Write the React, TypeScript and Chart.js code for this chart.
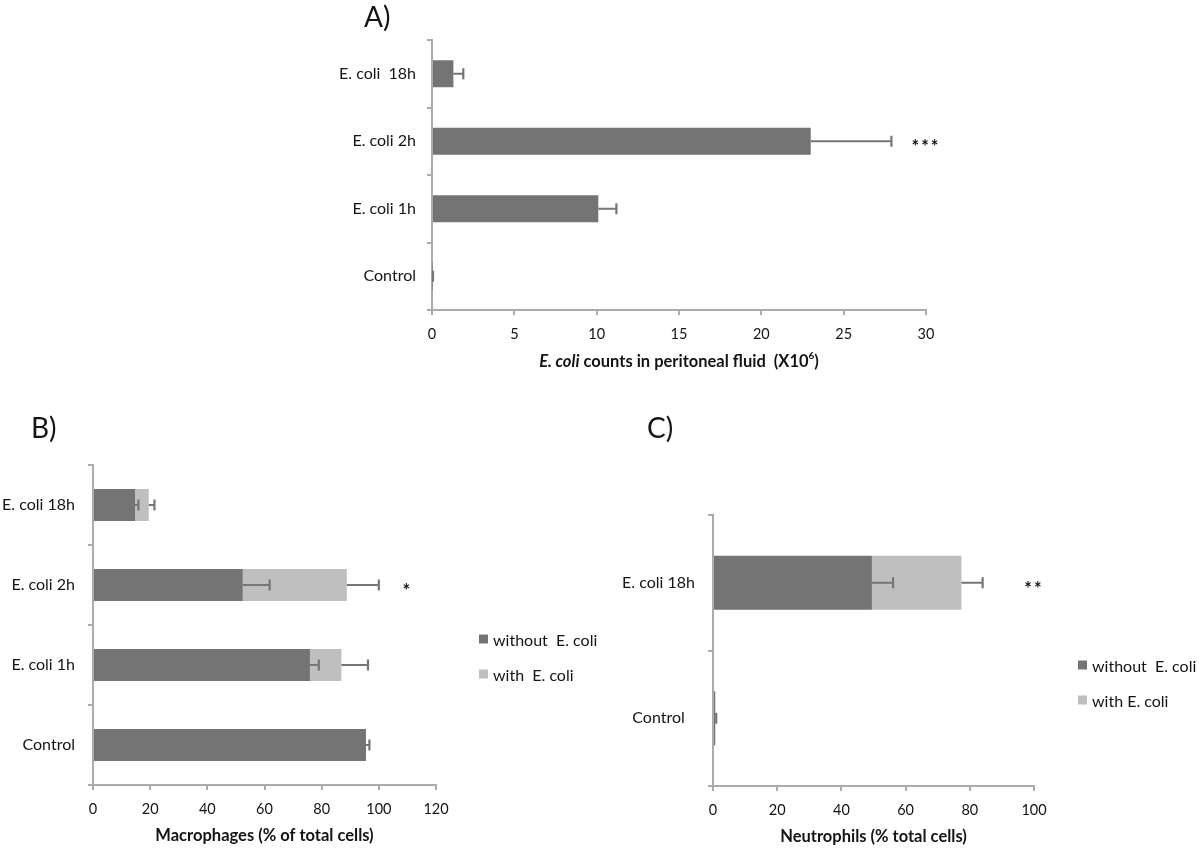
import React, { useEffect, useRef } from 'react';
import { Chart, registerables } from 'chart.js';

Chart.register(...registerables);

// ---------- Data ----------
// Panel A
const catsA = ['E. coli  18h', 'E. coli 2h', 'E. coli 1h', 'Control'];
const countsA = [1.3, 23.0, 10.1, 0.03];
const errA = [0.6, 4.9, 1.1, 0.03];
const ticksA = [0, 5, 10, 15, 20, 25, 30];
const sigA = [{ cat: 1, at: 30, mark: '***' }];

// Panel B
const catsB = ['E. coli 18h', 'E. coli 2h', 'E. coli 1h', 'Control'];
const withoutB = [14.7, 52.4, 75.9, 95.5];
const withB = [4.8, 36.4, 11.0, 0];
const errWithoutB = [1.2, 9.4, 3.1, 1.2];
const errWithB = [2.0, 11.2, 9.3, 0];
const ticksB = [0, 20, 40, 60, 80, 100, 120];
const seriesB = ['without  E. coli', 'with  E. coli'];
const sigB = [{ cat: 1, at: 110, mark: '*' }];

// Panel C
const catsC = ['E. coli 18h', 'Control'];
const withoutC = [49.5, 0.7];
const withC = [27.9, 0];
const errWithoutC = [6.6, 0.3];
const errWithC = [6.6, 0];
const ticksC = [0, 20, 40, 60, 80, 100];
const seriesC = ['without  E. coli', 'with E. coli'];
const sigC = [{ cat: 0, at: 100, mark: '**' }];

// ---------- Styles ----------
const FONT = 'Lato, "Open Sans", sans-serif';
const TEXT = '#141414';
const AXIS = '#ababab';
const DARK = '#747474';
const LIGHT = '#bfbfbf';
const ERR = '#767676';

const errorBarPlugin = {
  id: 'errorBars',
  afterDatasetsDraw(chart: any) {
    const ctx = chart.ctx;
    const xs = chart.scales.x;
    const cum: number[] = [];
    chart.data.datasets.forEach((ds: any, i: number) => {
      const meta = chart.getDatasetMeta(i);
      const errs: number[] = ds.errors || [];
      ds.data.forEach((v: number, j: number) => {
        const end = (cum[j] || 0) + v;
        cum[j] = end;
        const e = errs[j];
        if (!e) return;
        const el = meta.data[j];
        const x0 = xs.getPixelForValue(end);
        const x1 = xs.getPixelForValue(end + e);
        const y = el.y;
        ctx.save();
        ctx.strokeStyle = ERR;
        ctx.lineWidth = 2.2;
        ctx.beginPath();
        ctx.moveTo(x0, y);
        ctx.lineTo(x1, y);
        ctx.moveTo(x1, y - 5.5);
        ctx.lineTo(x1, y + 5.5);
        ctx.stroke();
        ctx.restore();
      });
    });
  },
};

type Decor = {
  label: string;
  lx: number;
  ly: number;
  sig: { cat: number; at: number; mark: string }[];
  legend?: { x: number; y: number; dy: number };
  richTitleY?: number;
};

function decorPlugin(o: Decor) {
  return {
    id: 'decor',
    afterDraw(chart: any) {
      const ctx = chart.ctx;
      ctx.save();
      ctx.fillStyle = TEXT;
      // panel label
      ctx.textBaseline = 'middle';
      ctx.textAlign = 'left';
      ctx.font = `28px ${FONT}`;
      ctx.fillText(o.label, o.lx, o.ly);
      // significance marks
      ctx.font = `bold 18px ${FONT}`;
      ctx.textAlign = 'center';
      ctx.textBaseline = 'alphabetic';
      try { (ctx as any).letterSpacing = '2px'; } catch (e) {}
      for (const s of o.sig) {
        const x = chart.scales.x.getPixelForValue(s.at);
        const y = chart.scales.y.getPixelForValue(s.cat);
        ctx.fillText(s.mark, x, y + 12);
      }
      try { (ctx as any).letterSpacing = '0px'; } catch (e) {}
      // legend
      if (o.legend) {
        ctx.textAlign = 'left';
        ctx.textBaseline = 'middle';
        ctx.font = `16px ${FONT}`;
        chart.data.datasets.forEach((ds: any, i: number) => {
          const y = o.legend!.y + i * o.legend!.dy;
          ctx.fillStyle = ds.backgroundColor;
          ctx.fillRect(o.legend!.x, y - 6.5, 9, 9);
          ctx.fillStyle = TEXT;
          ctx.fillText(ds.label, o.legend!.x + 14, y);
        });
      }
      // rich axis title (panel A)
      if (o.richTitleY !== undefined) {
        const parts: [string, string, number][] = [
          ['E. coli', `italic bold 16.5px ${FONT}`, 0],
          [' counts in peritoneal fluid  (X10', `bold 16.5px ${FONT}`, 0],
          ['6', `bold 10px ${FONT}`, -6],
          [')', `bold 16.5px ${FONT}`, 0],
        ];
        let total = 0;
        for (const p of parts) { ctx.font = p[1]; total += ctx.measureText(p[0]).width; }
        const ca = chart.chartArea;
        let x = (ca.left + ca.right) / 2 - total / 2;
        ctx.textAlign = 'left';
        ctx.textBaseline = 'middle';
        ctx.fillStyle = TEXT;
        for (const p of parts) {
          ctx.font = p[1];
          ctx.fillText(p[0], x, o.richTitleY + p[2]);
          x += ctx.measureText(p[0]).width;
        }
      }
      ctx.restore();
    },
  };
}

function valueAxis(ticks: number[], height: number, title?: string) {
  return {
    type: 'linear',
    stacked: true,
    min: ticks[0],
    max: ticks[ticks.length - 1],
    afterBuildTicks: (s: any) => { s.ticks = ticks.map((v) => ({ value: v })); },
    ticks: { font: { family: FONT, size: 14.5 }, color: TEXT, padding: 11 },
    grid: { drawOnChartArea: false, drawTicks: true, tickLength: 5, color: AXIS, lineWidth: 2 },
    border: { display: true, color: AXIS, width: 2 },
    title: title
      ? { display: true, text: title, color: TEXT, font: { family: FONT, size: 16.5, weight: 'bold' }, padding: { top: 0, bottom: 3 } }
      : { display: false },
    afterFit: (s: any) => { s.height = height; },
  };
}

function catAxis(width: number, padding: number, align: string) {
  return {
    type: 'category',
    stacked: true,
    offset: true,
    ticks: { font: { family: FONT, size: 16 }, color: TEXT, padding, crossAlign: align },
    grid: { offset: true, drawOnChartArea: false, drawTicks: true, tickLength: 5, color: AXIS, lineWidth: 2 },
    border: { display: true, color: AXIS, width: 2 },
    afterFit: (s: any) => { s.width = width; },
  };
}

const barCommon = { borderWidth: 0, barPercentage: 0.4, categoryPercentage: 1 };

function configA(): any {
  return {
    type: 'bar',
    data: {
      labels: catsA,
      datasets: [{ label: 'E. coli counts', data: countsA, errors: errA, backgroundColor: DARK, ...barCommon }],
    },
    options: {
      indexAxis: 'y',
      responsive: false,
      animation: false,
      events: [],
      layout: { padding: { left: 20, top: 40, right: 54, bottom: 40 } },
      plugins: { legend: { display: false }, tooltip: { enabled: false } },
      scales: { x: valueAxis(ticksA, 40), y: catAxis(112, 11, 'near') },
    },
    plugins: [errorBarPlugin, decorPlugin({ label: 'A)', lx: 64, ly: 18, sig: sigA, richTitleY: 362 })],
  };
}

function configB(): any {
  return {
    type: 'bar',
    data: {
      labels: catsB,
      datasets: [
        { label: seriesB[0], data: withoutB, errors: errWithoutB, backgroundColor: DARK, ...barCommon },
        { label: seriesB[1], data: withB, errors: errWithB, backgroundColor: LIGHT, ...barCommon },
      ],
    },
    options: {
      indexAxis: 'y',
      responsive: false,
      animation: false,
      events: [],
      layout: { padding: { left: 0, top: 70, right: 184, bottom: 2 } },
      plugins: { legend: { display: false }, tooltip: { enabled: false } },
      scales: { x: valueAxis(ticksB, 64, 'Macrophages (% of total cells)'), y: catAxis(93, 13, 'near') },
    },
    plugins: [errorBarPlugin, decorPlugin({ label: 'B)', lx: 31, ly: 34, sig: sigB, legend: { x: 479, y: 246, dy: 35 } })],
  };
}

function configC(): any {
  return {
    type: 'bar',
    data: {
      labels: catsC,
      datasets: [
        { label: seriesC[0], data: withoutC, errors: errWithoutC, backgroundColor: DARK, ...barCommon },
        { label: seriesC[1], data: withC, errors: errWithC, backgroundColor: LIGHT, ...barCommon },
      ],
    },
    options: {
      indexAxis: 'y',
      responsive: false,
      animation: false,
      events: [],
      layout: { padding: { left: 13, top: 120, right: 166, bottom: 1 } },
      plugins: { legend: { display: false }, tooltip: { enabled: false } },
      scales: { x: valueAxis(ticksC, 64, 'Neutrophils (% total cells)'), y: catAxis(100, 13, 'center') },
    },
    plugins: [errorBarPlugin, decorPlugin({ label: 'C)', lx: 47, ly: 34, sig: sigC, legend: { x: 478, y: 272, dy: 35 } })],
  };
}

function Panel(props: { left: number; top: number; width: number; height: number; make: () => any }) {
  const ref = useRef<HTMLCanvasElement>(null);
  useEffect(() => {
    const chart = new Chart(ref.current as HTMLCanvasElement, props.make());
    return () => chart.destroy();
  }, []);
  return (
    <div style={{ position: 'absolute', left: props.left, top: props.top, width: props.width, height: props.height }}>
      <canvas ref={ref} width={props.width} height={props.height} style={{ display: 'block', width: props.width, height: props.height }} />
    </div>
  );
}

export default function App() {
  return (
    <div style={{ position: 'absolute', left: 0, top: 0, width: 1200, height: 851, background: '#ffffff', overflow: 'hidden' }}>
      <Panel left={300} top={0} width={680} height={390} make={configA} />
      <Panel left={0} top={395} width={620} height={456} make={configB} />
      <Panel left={600} top={395} width={600} height={456} make={configC} />
    </div>
  );
}
